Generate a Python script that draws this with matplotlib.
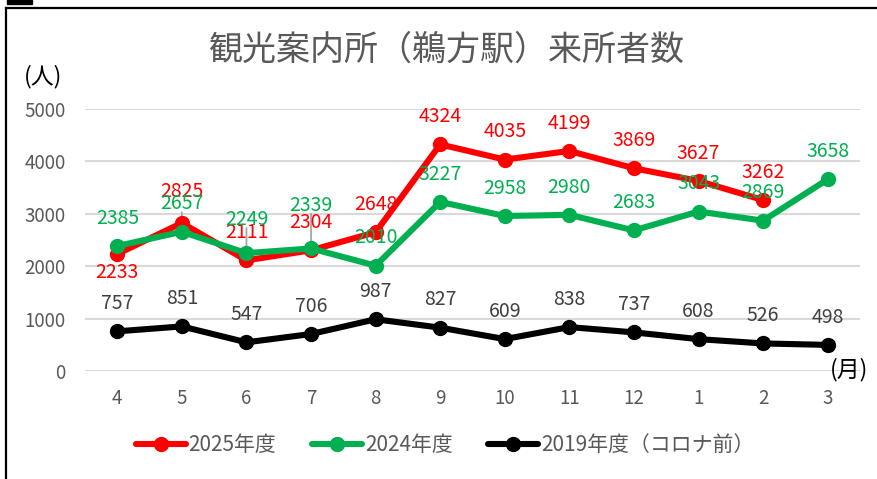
import matplotlib
matplotlib.use('Agg')
import matplotlib.pyplot as plt
from matplotlib.lines import Line2D
from matplotlib.patches import Rectangle

plt.rcParams['font.family'] = ['Noto Sans CJK JP', 'DejaVu Sans']

# データ
months = ['4', '5', '6', '7', '8', '9', '10', '11', '12', '1', '2', '3']
visitors_2025 = [2233, 2825, 2111, 2304, 2648, 4324, 4035, 4199, 3869, 3627, 3262]
visitors_2024 = [2385, 2657, 2249, 2339, 2010, 3227, 2958, 2980, 2683, 3043, 2869, 3658]
visitors_2019 = [757, 851, 547, 706, 987, 827, 609, 838, 737, 608, 526, 498]

series_names = ['2025年度', '2024年度', '2019年度（コロナ前）']
line_colors = ['#FF0000', '#00B050', '#000000']
label_colors = ['#FF0000', '#00B050', '#404040']

W, H = 877, 479
fig = plt.figure(figsize=(W / 100, H / 100), dpi=100)
ax = fig.add_axes([85 / W, 1 - 371 / H, (860 - 85) / W, (371 - 109) / H])

# ラベル位置の調整 (points) : 既定は上に20pt
label_offsets = [
    {0: -13, 1: 23},
    {2: 24, 3: 31},
    {},
]
leaders = [[], [1, 2, 3], []]

all_series = [visitors_2025, visitors_2024, visitors_2019]
for i, vals in enumerate(all_series):
    xs = list(range(len(vals)))
    ax.plot(xs, vals, color=line_colors[i], lw=4.4, marker='o', ms=10,
            solid_capstyle='round', zorder=3 + i, label=series_names[i])
    for j, v in enumerate(vals):
        dy = label_offsets[i].get(j, 20)
        if j in leaders[i]:
            ax.annotate('', xy=(j, v), xytext=(0, dy - 6), textcoords='offset points',
                        arrowprops=dict(arrowstyle='-', color='#A6A6A6', lw=1.3,
                                        shrinkA=0, shrinkB=0), zorder=2)
        ax.annotate(str(v), xy=(j, v), xytext=(0, dy), textcoords='offset points',
                    ha='center', va='center', fontsize=14, color=label_colors[i],
                    zorder=10)

ax.set_xlim(-0.5, 11.5)
ax.set_ylim(0, 5000)
ax.set_yticks(range(0, 5001, 1000))
ax.set_xticks(range(len(months)))
ax.set_xticklabels(months)
ax.tick_params(axis='both', length=0, labelsize=13.5, labelcolor='#595959')
ax.tick_params(axis='y', pad=14)
ax.tick_params(axis='x', pad=12)
ax.grid(axis='y', color='#D9D9D9', lw=1.5)
ax.set_axisbelow(True)
for s in ax.spines.values():
    s.set_visible(False)

fig.text(447 / W, 1 - 50 / H, '観光案内所（鵜方駅）来所者数', ha='center', va='center',
         fontsize=24.5, color='#595959')
fig.text(43 / W, 1 - 77 / H, '(人)', ha='center', va='center', fontsize=16.5, color='#000000')
fig.text(849 / W, 1 - 370 / H, '(月)', ha='center', va='center', fontsize=16.5, color='#000000')

fig.legend(loc='center', bbox_to_anchor=(445 / W, 1 - 445 / H), ncol=3, frameon=False,
           fontsize=15, labelcolor='#595959', handlelength=2.4, handletextpad=0.15,
           columnspacing=1.7)

# 枠線
fig.add_artist(Line2D([6 / W, 6 / W], [0, 1 - 8 / H], color='black', lw=1.6))
fig.add_artist(Line2D([6 / W, 1], [1 - 8 / H, 1 - 8 / H], color='black', lw=1.6))
fig.add_artist(Rectangle((7 / W, 1 - 3.5 / H), 25 / W, 3.5 / H, color='black',
                         transform=fig.transFigure))

fig.savefig('out.png', dpi=100)
